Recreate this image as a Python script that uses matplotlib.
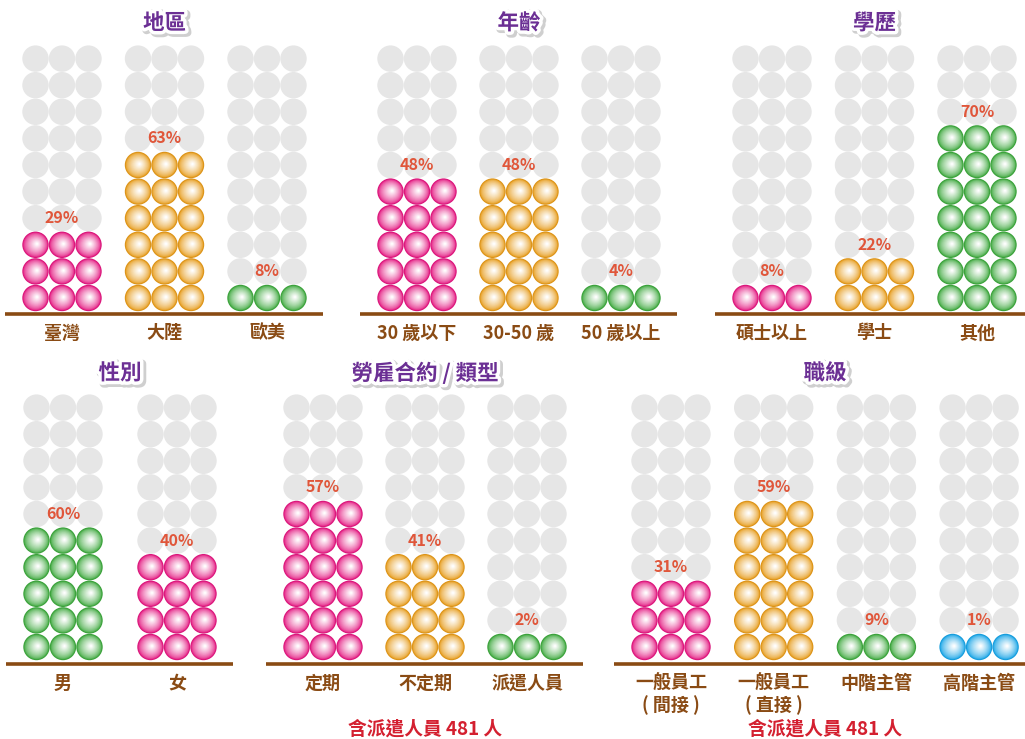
import numpy as np
import matplotlib
matplotlib.use("Agg")
import matplotlib.pyplot as plt
from matplotlib.patches import Circle
from matplotlib.collections import PatchCollection
from matplotlib.colors import to_rgb
import matplotlib.patheffects as pe

plt.rcParams['font.family'] = ['Noto Sans CJK TC', 'DejaVu Sans']

# ---- data ----
titles = ['地區', '年齡', '學歷', '性別', '勞雇合約 / 類型', '職級']
cats_region = ['臺灣', '大陸', '歐美']
pct_region = [29, 63, 8]
rows_region = [3, 6, 1]
cats_age = ['30 歲以下', '30-50 歲', '50 歲以上']
pct_age = [48, 48, 4]
rows_age = [5, 5, 1]
cats_edu = ['碩士以上', '學士', '其他']
pct_edu = [8, 22, 70]
rows_edu = [1, 2, 7]
cats_sex = ['男', '女']
pct_sex = [60, 40]
rows_sex = [5, 4]
cats_contract = ['定期', '不定期', '派遣人員']
pct_contract = [57, 41, 2]
rows_contract = [6, 4, 1]
cats_rank = ['一般員工\n( 間接 )', '一般員工\n( 直接 )', '中階主管', '高階主管']
pct_rank = [31, 59, 9, 1]
rows_rank = [3, 6, 1, 1]
footnote = '含派遣人員 481 人'

PINK, ORANGE, GREEN, BLUE = '#e4157f', '#e69a17', '#3ca83c', '#14a3e6'
colors_region = [PINK, ORANGE, GREEN]
colors_age = [PINK, ORANGE, GREEN]
colors_edu = [PINK, ORANGE, GREEN]
colors_sex = [GREEN, PINK]
colors_contract = [PINK, ORANGE, GREEN]
colors_rank = [PINK, ORANGE, GREEN, BLUE]

# ---- layout (pixel units) ----
N_ROWS = 10
DX, DY, R = 26.5, 26.6, 13.2
GRAY = '#e6e6e6'
BROWN = '#8a4b14'
PCT_COLOR = '#e0563a'
TITLE_COLOR = '#6b2f94'
NOTE_COLOR = '#d42030'

# title, cats, pcts, rows, colours, first group x, group gap, bottom row y, base line y, line end, footnote
panels = [
    (titles[0], cats_region, pct_region, rows_region, colors_region, 62, 102.5, 298, 314, None, False),
    (titles[1], cats_age, pct_age, rows_age, colors_age, 417, 102, 298, 314, None, False),
    (titles[2], cats_edu, pct_edu, rows_edu, colors_edu, 772, 102.5, 298, 314, 1025, False),
    (titles[3], cats_sex, pct_sex, rows_sex, colors_sex, 63, 114, 647, 664, None, False),
    (titles[4], cats_contract, pct_contract, rows_contract, colors_contract, 323, 102, 647, 664, None, True),
    (titles[5], cats_rank, pct_rank, rows_rank, colors_rank, 671, 102.7, 647, 664, 1025, True),
]

fig = plt.figure(figsize=(10.25, 7.39), dpi=100)
ax = fig.add_axes([0, 0, 1, 1])
ax.set_xlim(0, 1025)
ax.set_ylim(739, 0)
ax.axis('off')


def ball(x, y, color):
    # layered circles to fake a radial gradient (edge colour -> white centre)
    edge = np.array(to_rgb(color))
    out = [Circle((x, y), R, facecolor=edge * 0.95, edgecolor='none')]
    n = 16
    for i in range(n):
        t = i / (n - 1)
        r = (R - 1.0) * (1 - 0.93 * t)
        f = 0.12 + 0.88 * t ** 0.75
        c = edge * (1 - f) + np.ones(3) * f
        out.append(Circle((x + 1.5 * t, y - 1.0 * t), r, facecolor=c, edgecolor='none'))
    return out


gray_patches = []
ball_patches = []
for title, cats, pcts, rows, cols, x0, gap, ybot, yline, xend, note in panels:
    centers = [x0 + i * gap for i in range(len(cats))]
    for cx, pct, nr, col in zip(centers, pcts, rows, cols):
        for row in range(N_ROWS):
            y = ybot - row * DY
            for k in (-1, 0, 1):
                x = cx + k * DX
                if row < nr:
                    ball_patches += ball(x, y, col)
                else:
                    gray_patches.append(Circle((x, y), R, facecolor=GRAY, edgecolor='none'))
        ax.text(cx, ybot - nr * DY, f'{pct}%', color=PCT_COLOR, fontsize=11.5,
                fontweight='bold', ha='center', va='center', zorder=5)
    for cx, lab in zip(centers, cats):
        for j, line in enumerate(lab.split('\n')):
            ax.text(cx, yline + 19 + j * 22, line, color=BROWN, fontsize=13,
                    fontweight='heavy', ha='center', va='center')
    right = xend if xend is not None else centers[-1] + 56
    ax.plot([centers[0] - 57, right], [yline, yline], color=BROWN, lw=2.6,
            solid_capstyle='butt')
    mid = (centers[0] + centers[-1]) / 2
    ax.text(mid, yline - 291, title, color=TITLE_COLOR, fontsize=15.5,
            fontweight='heavy', ha='center', va='center',
            path_effects=[pe.Stroke(linewidth=6, foreground='#b0b0b0', offset=(1.5, -1.5), alpha=0.6),
                          pe.Stroke(linewidth=5, foreground='white'), pe.Normal()])
    if note:
        ax.text(mid, 729, footnote, color=NOTE_COLOR, fontsize=13.5,
                fontweight='heavy', ha='center', va='center')

ax.add_collection(PatchCollection(gray_patches, match_original=True, zorder=1))
ax.add_collection(PatchCollection(ball_patches, match_original=True, zorder=2))

fig.savefig('out.png', dpi=100)
